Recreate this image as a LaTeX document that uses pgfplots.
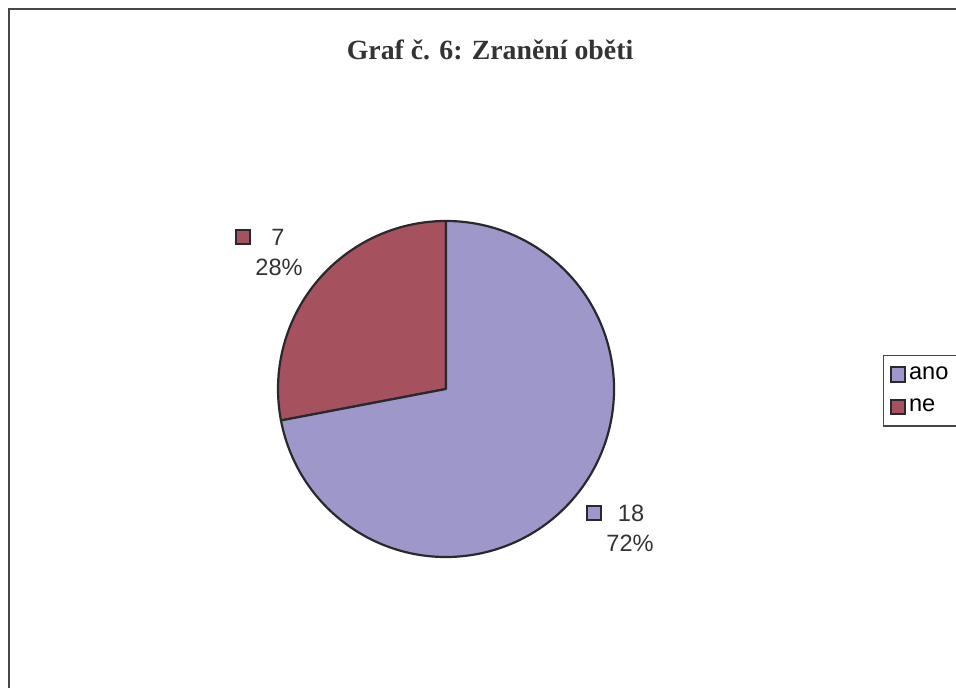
\documentclass[border=0pt]{standalone}
\usepackage{pgfplots}
\pgfplotsset{compat=1.18}
\usepackage{fontspec}
\setmainfont{Liberation Sans}
\newfontfamily\titlefont{Liberation Serif}
\definecolor{anofill}{RGB}{158,152,202}
\definecolor{nefill}{RGB}{165,82,94}
\definecolor{edge}{RGB}{40,40,45}
\definecolor{frame}{RGB}{70,70,70}
\begin{document}
\begin{tikzpicture}
\path[use as bounding box, clip] (0,0) rectangle (478pt,344pt);
% values of the two slices
\pgfmathsetmacro{\vano}{18}
\pgfmathsetmacro{\vne}{7}
\pgfmathsetmacro{\angne}{90+360*\vne/(\vano+\vne)}
\begin{axis}[
  at={(0,0)}, anchor=south west,
  width=478pt, height=344pt, scale only axis,
  xmin=0, xmax=956, ymin=0, ymax=688,
  hide axis, clip=false,
  legend style={at={(axis cs:883,333)}, anchor=north west,
    draw=frame, line width=0.6pt, font=\fontsize{11.8}{13}\selectfont,
    inner xsep=3pt, inner ysep=3.5pt, row sep=4.5pt,
    nodes={inner xsep=1.5pt}},
  legend cell align=left,
  legend image code/.code={\draw[#1, line width=1pt] (-1.8pt,-3.6pt) rectangle (5.4pt,3.6pt);},
]
  \addlegendimage{fill=anofill, draw=edge}
  \addlegendentry{ano}
  \addlegendimage{fill=nefill, draw=edge}
  \addlegendentry{ne}

  % pie
  \filldraw[fill=nefill, draw=edge, line width=1.1pt, line join=round]
    (axis cs:446,299) -- ++(90:84pt) arc[start angle=90, end angle=\angne, radius=84pt] -- cycle;
  \filldraw[fill=anofill, draw=edge, line width=1.1pt, line join=round]
    (axis cs:446,299) -- ++(\angne:84pt) arc[start angle=\angne, end angle=450, radius=84pt] -- cycle;

  % frame
  \draw[frame, line width=0.9pt] (axis cs:9,0) -- (axis cs:9,679) -- (axis cs:960,679);

  % title
  \node[font=\titlefont\bfseries\fontsize{13.9}{16}\selectfont, text=black!80] at (axis cs:490,638) {Graf č. 6: Zranění oběti};

  % data labels
  \draw[fill=nefill, draw=edge, line width=0.95pt] (axis cs:236,444) rectangle (axis cs:250,458);
  \node[font=\fontsize{11.8}{14}\selectfont, text=black!80] at (axis cs:278,451) {7};
  \node[font=\fontsize{11.8}{14}\selectfont, text=black!80] at (axis cs:279,421) {28\%};
  \draw[fill=anofill, draw=edge, line width=0.95pt] (axis cs:587,168) rectangle (axis cs:601,182);
  \node[font=\fontsize{11.8}{14}\selectfont, text=black!80] at (axis cs:631,175) {18};
  \node[font=\fontsize{11.8}{14}\selectfont, text=black!80] at (axis cs:630,145) {72\%};
\end{axis}
\end{tikzpicture}
\end{document}
